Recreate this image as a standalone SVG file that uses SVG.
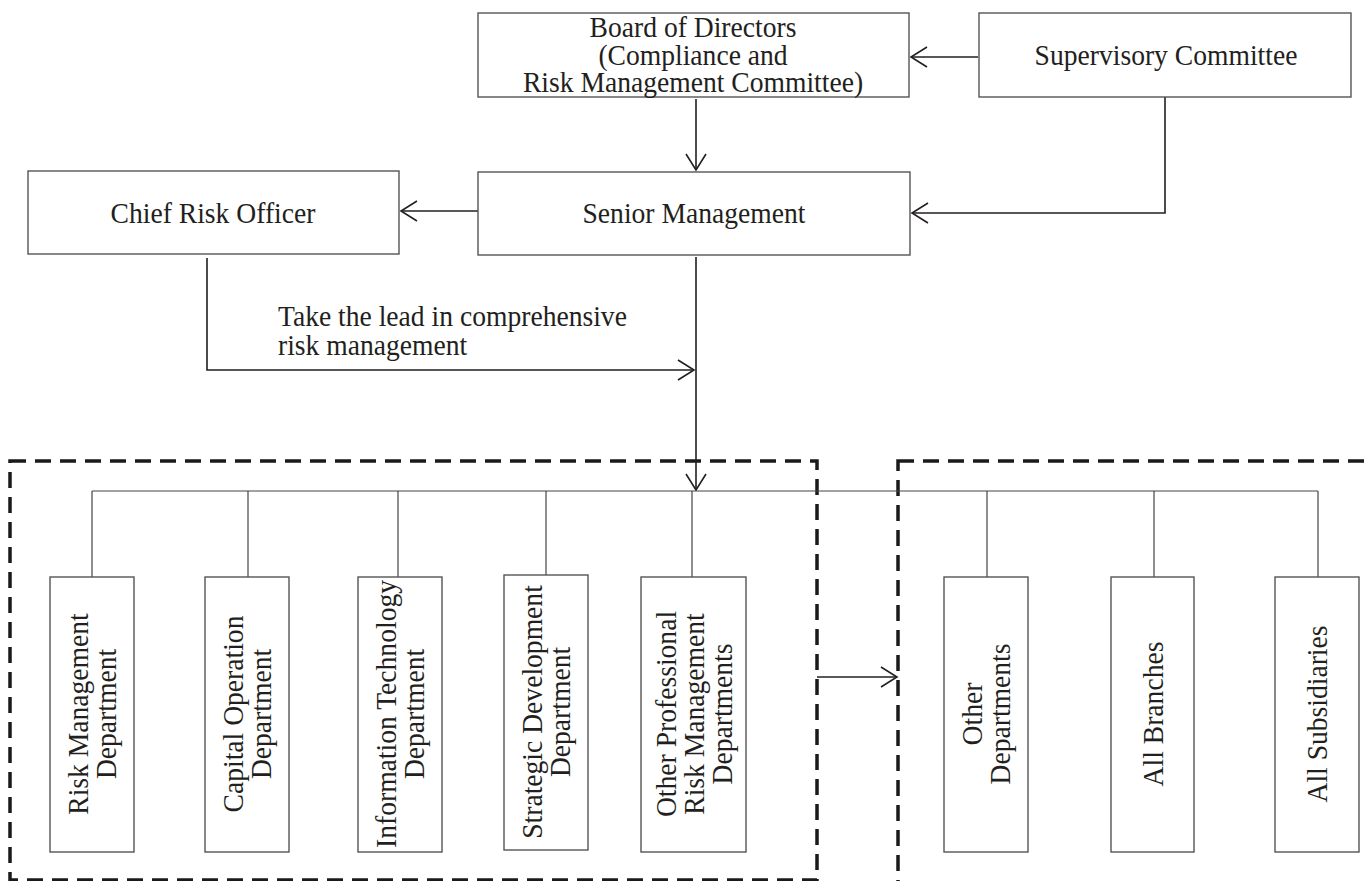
<svg xmlns="http://www.w3.org/2000/svg" width="1365" height="881" viewBox="0 0 1365 881">
<defs>
<style>
.box{fill:#fff;stroke:#555;stroke-width:1.4}
.t{font-family:"Liberation Serif","Times New Roman",serif;font-size:30px;fill:#231f20}
.c{text-anchor:middle}
.ln{fill:none;stroke:#231f20;stroke-width:1.6}
.thin{fill:none;stroke:#444;stroke-width:1.2}
.dash{fill:none;stroke:#1a1a1a;stroke-width:3.5;stroke-dasharray:16 9}
</style>
<marker id="ah" markerUnits="userSpaceOnUse" markerWidth="20" markerHeight="24" viewBox="-18 -12 20 24" refX="0" refY="0" orient="auto">
<path d="M-16,-10 L0,0 L-16,10" fill="none" stroke="#231f20" stroke-width="1.6"/>
</marker>
</defs>
<rect width="1365" height="881" fill="#fff"/>

<g id="groups">
<rect class="dash" x="10" y="461" width="807" height="419"/>
<rect class="dash" x="898" y="461" width="490" height="440"/>
</g>

<g id="connectors">
<line class="ln" x1="978" y1="57" x2="911" y2="57" marker-end="url(#ah)"/>
<line class="ln" x1="696" y1="99" x2="696" y2="170" marker-end="url(#ah)"/>
<polyline class="ln" points="1165,97 1165,213 912,213" marker-end="url(#ah)"/>
<line class="ln" x1="478" y1="211" x2="401" y2="211" marker-end="url(#ah)"/>
<polyline class="ln" points="207,258 207,370 694,370" marker-end="url(#ah)"/>
<line class="ln" x1="696" y1="257" x2="696" y2="490" marker-end="url(#ah)"/>
<line class="ln" x1="817" y1="677" x2="897" y2="677" marker-end="url(#ah)"/>
<line class="thin" x1="92" y1="491" x2="1318" y2="491"/>
<line class="thin" x1="92" y1="491" x2="92" y2="577"/>
<line class="thin" x1="248" y1="491" x2="248" y2="577"/>
<line class="thin" x1="398" y1="491" x2="398" y2="577"/>
<line class="thin" x1="546" y1="491" x2="546" y2="575"/>
<line class="thin" x1="692" y1="491" x2="692" y2="577"/>
<line class="thin" x1="987" y1="491" x2="987" y2="577"/>
<line class="thin" x1="1154" y1="491" x2="1154" y2="577"/>
<line class="thin" x1="1318" y1="491" x2="1318" y2="577"/>
<text class="t" transform="translate(278,326) scale(0.92,1)">Take the lead in comprehensive</text>
<text class="t" transform="translate(278,355) scale(0.92,1)">risk management</text>
</g>

<g id="board">
<rect class="box" x="478" y="13" width="431" height="84"/>
<text class="t c" transform="translate(693,37) scale(0.92,1)">Board of Directors</text>
<text class="t c" transform="translate(693,65) scale(0.92,1)">(Compliance and</text>
<text class="t c" transform="translate(693,92) scale(0.92,1)">Risk Management Committee)</text>
</g>

<g id="supervisory">
<rect class="box" x="979" y="13" width="372" height="84"/>
<text class="t c" transform="translate(1166,65) scale(0.92,1)">Supervisory Committee</text>
</g>

<g id="senior">
<rect class="box" x="478" y="172" width="432" height="83"/>
<text class="t c" transform="translate(694,223) scale(0.92,1)">Senior Management</text>
</g>

<g id="cro">
<rect class="box" x="28" y="171" width="371" height="83"/>
<text class="t c" transform="translate(213,223) scale(0.92,1)">Chief Risk Officer</text>
</g>

<g id="risk-dept">
<rect class="box" x="50" y="577" width="84" height="275"/>
<text class="t c" transform="translate(88,714) rotate(-90) scale(0.92,1)">Risk Management</text>
<text class="t c" transform="translate(116,714) rotate(-90) scale(0.92,1)">Department</text>
</g>

<g id="capital-dept">
<rect class="box" x="205" y="577" width="84" height="275"/>
<text class="t c" transform="translate(243,714) rotate(-90) scale(0.92,1)">Capital Operation</text>
<text class="t c" transform="translate(271,714) rotate(-90) scale(0.92,1)">Department</text>
</g>

<g id="it-dept">
<rect class="box" x="358" y="577" width="84" height="275"/>
<text class="t c" transform="translate(396,714) rotate(-90) scale(0.92,1)">Information Technology</text>
<text class="t c" transform="translate(424,714) rotate(-90) scale(0.92,1)">Department</text>
</g>

<g id="strategic-dept">
<rect class="box" x="504" y="575" width="84" height="275"/>
<text class="t c" transform="translate(542,712) rotate(-90) scale(0.92,1)">Strategic Development</text>
<text class="t c" transform="translate(570,712) rotate(-90) scale(0.92,1)">Department</text>
</g>

<g id="other-pro-dept">
<rect class="box" x="641" y="577" width="105" height="275"/>
<text class="t c" transform="translate(676,714) rotate(-90) scale(0.92,1)">Other Professional</text>
<text class="t c" transform="translate(704,714) rotate(-90) scale(0.92,1)">Risk Management</text>
<text class="t c" transform="translate(732,714) rotate(-90) scale(0.92,1)">Departments</text>
</g>

<g id="other-dept">
<rect class="box" x="944" y="577" width="84" height="275"/>
<text class="t c" transform="translate(982,714) rotate(-90) scale(0.92,1)">Other</text>
<text class="t c" transform="translate(1010,714) rotate(-90) scale(0.92,1)">Departments</text>
</g>

<g id="branches">
<rect class="box" x="1111" y="577" width="83" height="275"/>
<text class="t c" transform="translate(1163,714) rotate(-90) scale(0.92,1)">All Branches</text>
</g>

<g id="subsidiaries">
<rect class="box" x="1275" y="577" width="84" height="275"/>
<text class="t c" transform="translate(1327,714) rotate(-90) scale(0.92,1)">All Subsidiaries</text>
</g>
</svg>
